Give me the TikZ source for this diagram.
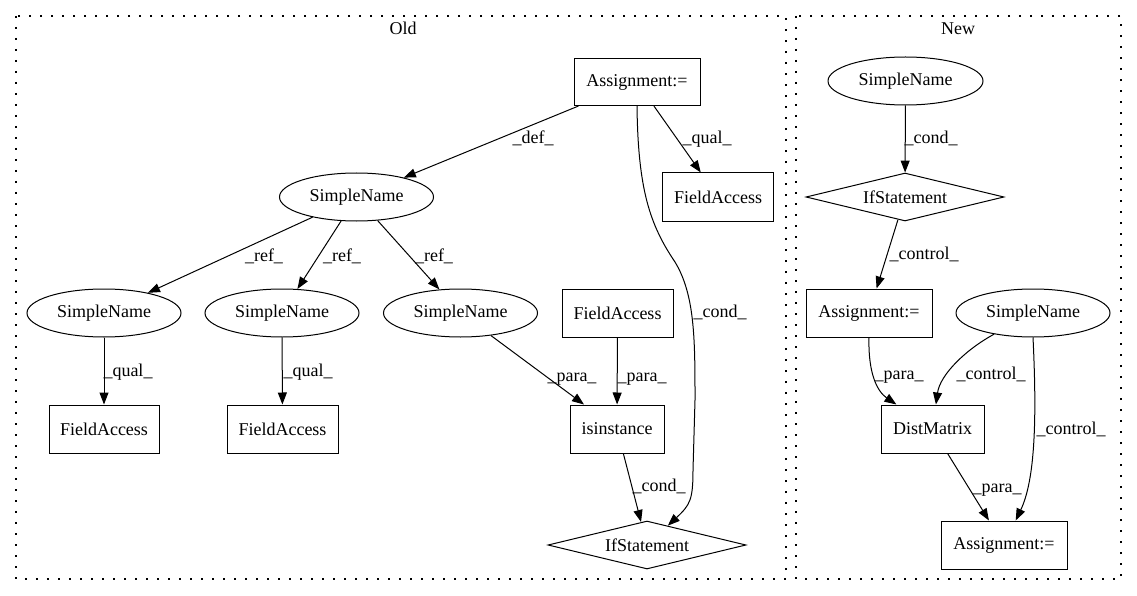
\documentclass[tikz,border=0pt]{standalone}
\usepackage{fontspec}
\setmainfont{Liberation Serif}
\usetikzlibrary{arrows.meta,shapes.geometric}
\begin{document}
\begin{tikzpicture}[x=1pt,y=-1pt,
  font=\fontsize{18}{22}\selectfont,
  box/.style={draw, rectangle, line width=1pt, minimum height=48pt, inner sep=0pt},
  ell/.style={draw, ellipse, line width=1pt, minimum width=154pt, minimum height=48pt, inner sep=0pt},
  dia/.style={draw, diamond, shape aspect=4, line width=1pt, minimum width=198pt, minimum height=48pt, inner sep=0pt},
  conn/.style={draw, line width=1pt, -{Triangle[length=12pt,width=9pt]}},
  lbl/.style={inner sep=0pt, text height=12pt, text depth=4pt},
  clus/.style={draw, line width=1.3pt, dash pattern=on 1.8pt off 9.2pt}]
\useasboundingbox (0,0) rectangle (1137,596);
% clusters
\draw[clus] (16,16) rectangle (786,579);
\draw[clus] (796,16) rectangle (1121,579);
\node[lbl] (oldlbl) at (403,31) {Old};
\node[lbl] (newlbl) at (958,31) {New};
% Old nodes
\node[box, minimum width=126pt, minimum height=47pt] (asg) at (637,82) {Assignment:=};
\node[box, minimum width=111pt] (faq) at (718,197) {FieldAccess};
\node[ell] (sn0) at (356.5,197) {SimpleName};
\node[ell] (sn1) at (104,313) {SimpleName};
\node[ell] (sn2) at (282,313) {SimpleName};
\node[ell] (sn3) at (460.5,313) {SimpleName};
\node[box, minimum width=111pt] (fai) at (617.5,313) {FieldAccess};
\node[box, minimum width=110pt] (fa1) at (104,429) {FieldAccess};
\node[box, minimum width=111pt] (fa2) at (282.5,429) {FieldAccess};
\node[box, minimum width=94pt] (isi) at (617,429) {isinstance};
\node[dia] (ifo) at (647,545) {IfStatement};
% Old edges
\draw[conn] (asg) -- (sn0);
\draw[conn] (asg) -- (faq);
\draw[conn] (asg.south) .. controls (638,190) and (650,225) .. (675,262)
   .. controls (695,295) and (695,340) .. (695,400) -- (693,470)
   .. controls (693,500) and (690,505) .. (ifo);
\draw[conn] (sn0) -- (sn1);
\draw[conn] (sn0) -- (sn2);
\draw[conn] (sn0) -- (sn3);
\draw[conn] (sn1) -- (fa1);
\draw[conn] (sn2) -- (fa2);
\draw[conn] (sn3) -- (isi);
\draw[conn] (fai) -- (isi);
\draw[conn] (isi) -- (ifo);
% Old labels
\node[lbl] (l1) at (533,140) {\_def\_};
\node[lbl] (l2) at (707,140) {\_qual\_};
\node[lbl] (l3) at (720,313) {\_cond\_};
\node[lbl] (l4) at (264,257) {\_ref\_};
\node[lbl] (l5) at (342,257) {\_ref\_};
\node[lbl] (l6) at (434,257) {\_ref\_};
\node[lbl] (l7) at (128,372) {\_qual\_};
\node[lbl] (l8) at (308,372) {\_qual\_};
\node[lbl] (l9) at (572,377) {\_para\_};
\node[lbl] (l10) at (642,377) {\_para\_};
\node[lbl] (l11) at (659,487) {\_cond\_};
% New nodes
\node[ell, minimum width=155pt] (nsn) at (905.5,81) {SimpleName};
\node[dia] (nif) at (905,197) {IfStatement};
\node[box, minimum width=126pt] (nas1) at (869,313) {Assignment:=};
\node[ell] (nsr) at (1033,313) {SimpleName};
\node[box, minimum width=103pt] (ndm) at (932.5,429) {DistMatrix};
\node[box, minimum width=126pt] (nas2) at (1004,545) {Assignment:=};
% New edges
\draw[conn] (nsn) -- (nif);
\draw[conn] (nif) -- (nas1);
\draw[conn] (nas1.south) .. controls (868,375) and (878,392) .. (ndm);
\draw[conn] (nsr) .. controls (965,350) and (940,375) .. (ndm);
\draw[conn] (nsr.south) .. controls (1037,420) and (1035,480) .. (nas2);
\draw[conn] (ndm) -- (nas2);
% New labels
\node[lbl] (m1) at (931,140) {\_cond\_};
\node[lbl] (m2) at (924,255) {\_control\_};
\node[lbl] (m3) at (899,375) {\_para\_};
\node[lbl] (m4) at (991,375) {\_control\_};
\node[lbl] (m5) at (1071,430) {\_control\_};
\node[lbl] (m6) at (997,488) {\_para\_};
\end{tikzpicture}
\end{document}
